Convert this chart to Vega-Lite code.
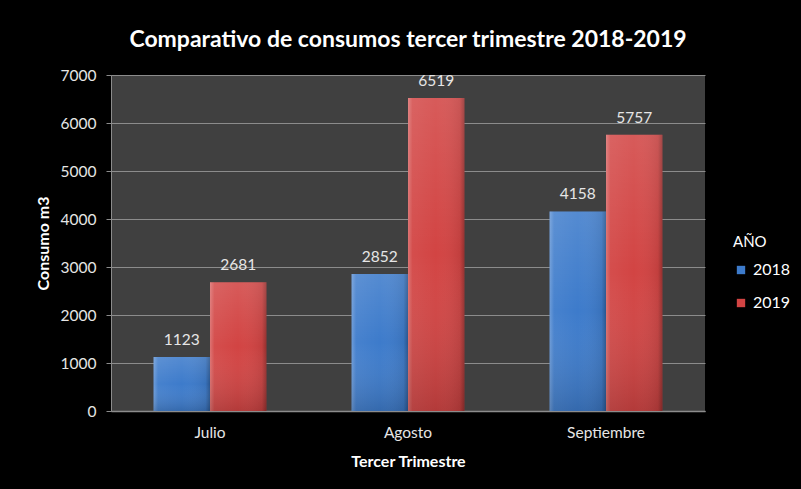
{
  "$schema": "https://vega.github.io/schema/vega-lite/v6.json",
  "width": 594,
  "height": 336,
  "autosize": {"type": "none"},
  "padding": {"left": 111, "top": 75, "right": 96, "bottom": 78},
  "background": "#000000",
  "title": {
    "text": "Comparativo de consumos tercer trimestre 2018-2019",
    "font": "Lato",
    "fontSize": 23,
    "fontWeight": "bold",
    "color": "#ffffff",
    "anchor": "middle",
    "frame": "group",
    "offset": 16
  },
  "config": {
    "view": {"fill": "#404040", "stroke": null},
    "font": "Lato",
    "axis": {"labelFont": "Lato", "titleFont": "Lato"}
  },
  "data": {
    "values": [
      {"mes": "Julio", "anio": "2018", "consumo": 1123},
      {"mes": "Julio", "anio": "2019", "consumo": 2681},
      {"mes": "Agosto", "anio": "2018", "consumo": 2852},
      {"mes": "Agosto", "anio": "2019", "consumo": 6519},
      {"mes": "Septiembre", "anio": "2018", "consumo": 4158},
      {"mes": "Septiembre", "anio": "2019", "consumo": 5757}
    ]
  },
  "encoding": {
    "x": {
      "field": "mes",
      "type": "nominal",
      "sort": ["Julio", "Agosto", "Septiembre"],
      "scale": {"paddingInner": 0.43, "paddingOuter": 0.215},
      "axis": {
        "title": "Tercer Trimestre",
        "labelAngle": 0,
        "labelColor": "#e6e6e6",
        "labelFontSize": 15.5,
        "labelPadding": 14,
        "ticks": false,
        "domainColor": "#8c8c8c",
        "domainWidth": 1.5,
        "titleColor": "#ffffff",
        "titleFontSize": 16,
        "titleFontWeight": "bold",
        "titlePadding": 13
      }
    },
    "xOffset": {"field": "anio", "type": "nominal", "scale": {"paddingInner": 0, "paddingOuter": 0}},
    "y": {
      "field": "consumo",
      "type": "quantitative",
      "scale": {"domain": [0, 7000], "nice": false},
      "axis": {
        "title": "Consumo m3",
        "format": "d",
        "values": [0, 1000, 2000, 3000, 4000, 5000, 6000, 7000],
        "labelColor": "#e6e6e6",
        "labelFontSize": 15.5,
        "labelPadding": 10,
        "tickSize": 5,
        "tickColor": "#8c8c8c",
        "domainColor": "#8c8c8c",
        "gridColor": "#8c8c8c",
        "gridWidth": 1,
        "titleColor": "#ffffff",
        "titleFontSize": 16,
        "titleFontWeight": "bold",
        "titlePadding": 9
      }
    }
  },
  "layer": [
    {
      "mark": {"type": "bar", "cornerRadius": 0},
      "encoding": {
        "color": {
          "field": "anio",
          "type": "nominal",
          "scale": {"domain": ["2018", "2019"], "range": ["#3d7bcb", "#d24443"]},
          "legend": {
            "title": "AÑO",
            "orient": "none",
            "legendX": 622,
            "legendY": 160,
            "titleColor": "#ffffff",
            "titleFontSize": 15,
            "titleFontWeight": "normal",
            "titlePadding": 12,
            "labelColor": "#ffffff",
            "labelFontSize": 16,
            "symbolType": "square",
            "symbolSize": 70,
            "symbolStrokeWidth": 0,
            "rowPadding": 17,
            "labelOffset": 4
          }
        }
      }
    },
    {
      "mark": {
        "type": "bar",
        "color": {
          "gradient": "linear",
          "x1": 0, "x2": 1, "y1": 0, "y2": 0,
          "stops": [
            {"offset": 0, "color": "rgba(255,255,255,0.25)"},
            {"offset": 0.08, "color": "rgba(255,255,255,0.05)"},
            {"offset": 0.5, "color": "rgba(255,255,255,0)"},
            {"offset": 0.92, "color": "rgba(0,0,0,0.08)"},
            {"offset": 1, "color": "rgba(0,0,0,0.3)"}
          ]
        }
      }
    },
    {
      "mark": {
        "type": "bar",
        "color": {
          "gradient": "linear",
          "x1": 0, "x2": 0, "y1": 0, "y2": 1,
          "stops": [
            {"offset": 0, "color": "rgba(255,255,255,0.12)"},
            {"offset": 0.5, "color": "rgba(255,255,255,0)"},
            {"offset": 1, "color": "rgba(0,0,0,0.15)"}
          ]
        }
      }
    },
    {
      "mark": {
        "type": "text",
        "baseline": "bottom",
        "dy": -9,
        "fontSize": 15.5,
        "color": "#e6e6e6"
      },
      "encoding": {"text": {"field": "consumo", "type": "quantitative", "format": "d"}}
    }
  ]
}
